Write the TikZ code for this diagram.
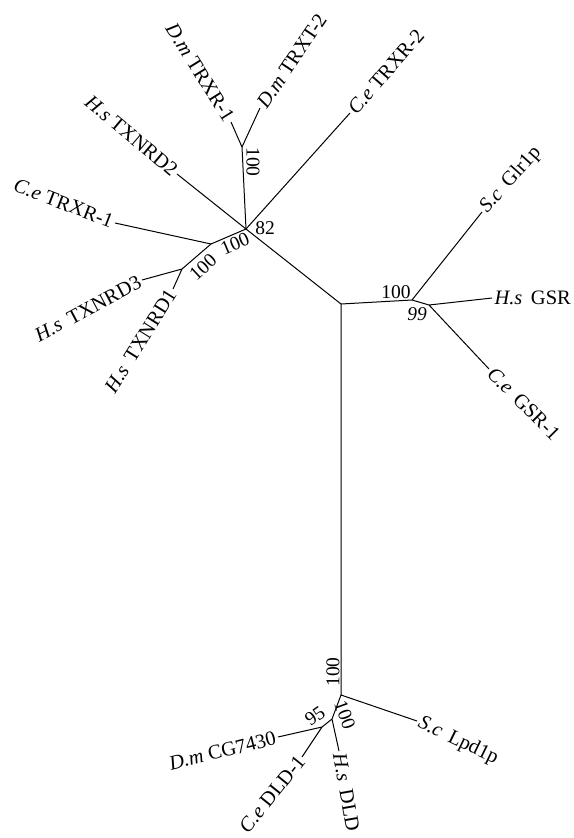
\documentclass[tikz,border=0pt]{standalone}
\usepackage{fontspec}
\setmainfont{Liberation Serif}
\begin{document}
\begin{tikzpicture}[x=1pt,y=-1pt,line width=1pt,
  taxon/.style={inner sep=2pt,font=\fontsize{20.5}{23}\selectfont},
  support/.style={inner sep=1pt,font=\fontsize{19.5}{22}\selectfont}]
\useasboundingbox (0,0) rectangle (573,838);
% branching points
\coordinate (root) at (341,304);
\coordinate (trx) at (246,229);
\coordinate (dmtrx) at (242,147);
\coordinate (cetrx) at (211,244);
\coordinate (hstrx) at (182,269);
\coordinate (gsr) at (412,300);
\coordinate (gsrb) at (429,305);
\coordinate (dld) at (341,695);
\coordinate (dldb) at (332,719);
\coordinate (dldc) at (322,727);
% leaves
\coordinate (dmtrxr1) at (231,122);
\coordinate (dmtrxt2) at (260,108);
\coordinate (cetrxr2) at (350,113);
\coordinate (hstxnrd2) at (177,174);
\coordinate (cetrxr1) at (115,223);
\coordinate (hstxnrd3) at (142,280);
\coordinate (hstxnrd1) at (173,289);
\coordinate (scglr1p) at (482,212);
\coordinate (hsgsr) at (492,298);
\coordinate (cegsr1) at (489,369);
\coordinate (sclpd1p) at (417,721);
\coordinate (hsdld) at (339,751);
\coordinate (cedld1) at (302,757);
\coordinate (dmcg) at (278,737);
% branches
\draw (root) -- (trx) (trx) -- (dmtrx) (dmtrx) -- (dmtrxr1) (dmtrx) -- (dmtrxt2);
\draw (trx) -- (cetrxr2) (trx) -- (hstxnrd2) (trx) -- (cetrx) (cetrx) -- (cetrxr1);
\draw (cetrx) -- (hstrx) (hstrx) -- (hstxnrd3) (hstrx) -- (hstxnrd1);
\draw (root) -- (gsr) (gsr) -- (scglr1p) (gsr) -- (gsrb) (gsrb) -- (hsgsr) (gsrb) -- (cegsr1);
\draw (root) -- (dld) (dld) -- (sclpd1p) (dld) -- (dldb) (dldb) -- (hsdld) (dldb) -- (dldc);
\draw (dldc) -- (dmcg) (dldc) -- (cedld1);
% taxon names
\node[taxon,anchor=east,rotate=-58] (ldmtrxr1) at (dmtrxr1) {\textit{D.m} TRXR-1};
\node[taxon,anchor=west,rotate=56] (ldmtrxt2) at (dmtrxt2) {\textit{D.m} TRXT-2};
\node[taxon,anchor=west,rotate=49] (lcetrxr2) at (cetrxr2) {\textit{C.e} TRXR-2};
\node[taxon,anchor=east,rotate=-40] (lhstxnrd2) at (hstxnrd2) {\textit{H.s} TXNRD2};
\node[taxon,anchor=east,rotate=-21] (lcetrxr1) at (cetrxr1) {\textit{C.e} TRXR-1};
\node[taxon,anchor=east,rotate=28] (lhstxnrd3) at (hstxnrd3) {\textit{H.s}\, TXNRD3};
\node[taxon,anchor=east,rotate=58] (lhstxnrd1) at (hstxnrd1) {\textit{H.s}\, TXNRD1};
\node[taxon,anchor=west,rotate=48] (lscglr1p) at (scglr1p) {\textit{S.c}\, Glr1p};
\node[taxon,anchor=west] (lhsgsr) at (hsgsr) {\textit{H.s}\, GSR};
\node[taxon,anchor=west,rotate=-45] (lcegsr1) at (cegsr1) {\textit{C.e}\, GSR-1};
\node[taxon,anchor=west,rotate=-26] (lsclpd1p) at (sclpd1p) {\textit{S.c}\, Lpd1p};
\node[taxon,anchor=west,rotate=-80] (lhsdld) at (hsdld) {\textit{H.s}\, DLD};
\node[taxon,anchor=east,rotate=51,inner sep=1pt] (lcedld1) at (cedld1) {\textit{C.e} DLD-1};
\node[taxon,anchor=east,rotate=14] (ldmcg) at (dmcg) {\textit{D.m} CG7430};
% bootstrap values
\node[support,rotate=-90] (bdmtrx) at (253,162) {100};
\node[support] (btrx) at (265,228) {82};
\node[support,rotate=23] (bcetrx) at (235,244) {100};
\node[support,rotate=43] (bhstrx) at (203,267) {100};
\node[support] (bgsr) at (396,292) {100};
\node[support,font=\itshape\fontsize{19.5}{22}\selectfont] (bgsrb) at (417,314) {99};
\node[support,rotate=90] (bdld) at (333,672) {100};
\node[support,rotate=-70] (bdldb) at (345,715) {100};
\node[support,rotate=35] (bdldc) at (315,716) {95};
\end{tikzpicture}
\end{document}
